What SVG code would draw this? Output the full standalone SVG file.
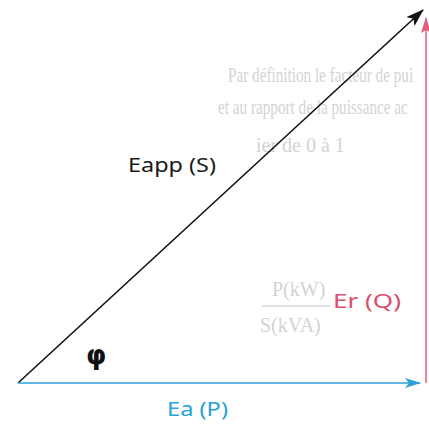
<svg xmlns="http://www.w3.org/2000/svg" width="429" height="424" viewBox="0 0 429 424">
<defs>
<style>
.bg{font-family:"Liberation Serif",serif;font-size:20px;fill:#d3d3d3}
.lbl{font-family:"Noto Sans","Liberation Sans",sans-serif;font-size:19px}
</style>
<marker id="ahK" viewBox="0 0 18 12" refX="17" refY="6" markerWidth="18" markerHeight="12" markerUnits="userSpaceOnUse" orient="auto"><path d="M0,0 L18,6 L0,12 L4,6 Z" fill="#111"/></marker>
<marker id="ahR" viewBox="0 0 16 10" refX="15" refY="5" markerWidth="16" markerHeight="10" markerUnits="userSpaceOnUse" orient="auto"><path d="M0,0 L16,5 L0,10 L3,5 Z" fill="#e0607a"/></marker>
<marker id="ahB" viewBox="0 0 16 10" refX="15" refY="5" markerWidth="16" markerHeight="10" markerUnits="userSpaceOnUse" orient="auto"><path d="M0,0 L16,5 L0,10 L4,5 Z" fill="#2a9fd8"/></marker>
</defs>
<rect width="429" height="424" fill="#fff"/>
<g id="background-text">
<text class="bg" transform="translate(228,82) scale(0.76,1)">Par définition le facteur de pui</text>
<text class="bg" transform="translate(218,114) scale(0.76,1)">et au rapport de la puissance ac</text>
<text class="bg" x="256" y="152">ier de 0 à 1</text>
<text class="bg" x="272" y="296">P(kW)</text>
<line x1="262" y1="306" x2="330" y2="306" stroke="#d6d6d6" stroke-width="1.5"/>
<text class="bg" x="260" y="332">S(kVA)</text>
</g>
<g id="connectors" fill="none">
<line x1="18" y1="383" x2="423" y2="10" stroke="#111" stroke-width="1.6" marker-end="url(#ahK)"/>
<line x1="426" y1="383" x2="426" y2="18" stroke="#e0607a" stroke-width="1.5" marker-end="url(#ahR)"/>
<line x1="18" y1="383" x2="420" y2="383" stroke="#2a9fd8" stroke-width="1.6" marker-end="url(#ahB)"/>
</g>
<g id="label-S"><text class="lbl" x="128" y="172" textLength="88" lengthAdjust="spacingAndGlyphs" fill="#1a1a1a">Eapp (S)</text></g>
<g id="label-Q"><text class="lbl" x="333" y="308" textLength="68" lengthAdjust="spacingAndGlyphs" fill="#d9506a">Er (Q)</text></g>
<g id="label-P"><text class="lbl" x="167" y="416" textLength="61" lengthAdjust="spacingAndGlyphs" fill="#2a9fd8">Ea (P)</text></g>
<g id="label-phi"><text x="86" y="364" font-family="DejaVu Sans,sans-serif" font-size="26" font-weight="bold" fill="#111">φ</text></g>
</svg>
